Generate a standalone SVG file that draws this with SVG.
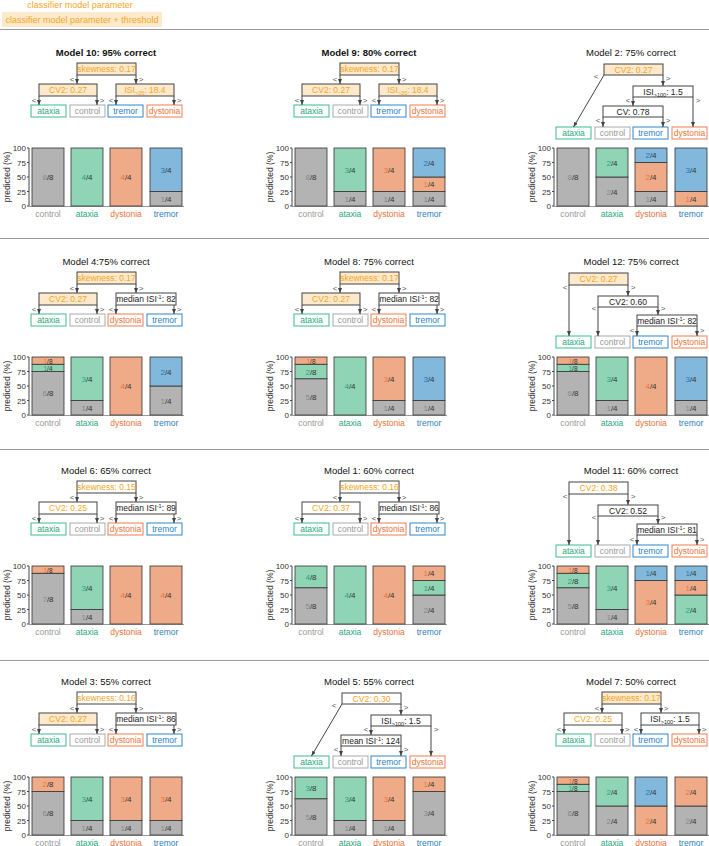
<svg xmlns="http://www.w3.org/2000/svg" xmlns:xlink="http://www.w3.org/1999/xlink" width="709" height="846" viewBox="0 0 709 846">
<style>
text{font-family:"Liberation Sans",Arial,sans-serif}
.ti{font-size:9.5px;text-anchor:middle;fill:#111}
.b{font-weight:bold}
.bx{stroke:#444;stroke-width:1}
.pf{fill:#fde9cc}
.pw{fill:#fff}
.tt{font-size:8.5px;text-anchor:middle}
.o{fill:#f5a623}
.k{fill:#222}
.sub{font-size:5.5px}
.lf{fill:#fff;stroke-width:1}
.la{stroke:#3dbb8f}.lc{stroke:#aaa}.lr{stroke:#2f86c8}.ld{stroke:#ef7d50}
.ca{fill:#2aa87e}.cc{fill:#999}.cr{fill:#2a7fc0}.cd{fill:#e8743b}
.e{stroke:#444;stroke-width:1;fill:none;marker-end:url(#ah)}
.s{font-size:8px;fill:#555;text-anchor:middle}
.g{fill:#b3b3b3}.gr{fill:#8fd5b5}.or{fill:#efab88}.bl{fill:#82b8dc}
.bar rect{stroke:#333;stroke-width:.8}
.bt{font-size:8px;text-anchor:middle;fill:#333}
text.bt[y="102.6"],text.bt[y="109.9"]{font-size:6.5px}
.ng{fill:#888}.na{fill:#1fa67a}.nd{fill:#e8743b}.nr{fill:#1f77b4}
.tk{font-size:8px;text-anchor:end;fill:#333}
.xl{font-size:8.5px;text-anchor:middle}
.sep{stroke:#999;stroke-width:1}
</style>
<defs>
<marker id="ah" markerWidth="5" markerHeight="4" refX="5" refY="2" orient="auto" markerUnits="userSpaceOnUse"><path d="M0,0L5,2L0,4z" fill="#444"/></marker>
<g id="ax">
<line x1="29" y1="96" x2="29" y2="154" stroke="#444"/>
<line x1="29" y1="154.5" x2="184" y2="154.5" stroke="#999"/>
<path d="M27 96H29M27 110.5H29M27 125H29M27 139.5H29M27 154H29" stroke="#444"/>
<text class="tk" x="26" y="99">100</text><text class="tk" x="26" y="113.5">75</text><text class="tk" x="26" y="128">50</text><text class="tk" x="26" y="142.5">25</text><text class="tk" x="26" y="157">0</text>
<text font-size="8.5" fill="#333" text-anchor="middle" transform="translate(10,125) rotate(-90)">predicted (%)</text>
<text class="xl cc" x="48" y="164.5">control</text><text class="xl ca" x="87" y="164.5">ataxia</text><text class="xl cd" x="126" y="164.5">dystonia</text><text class="xl cr" x="166" y="164.5">tremor</text>
</g>
<g id="LA">
<g><rect class="lf la" x="31" y="53" width="35" height="12"/><text class="tt ca" x="48.5" y="62">ataxia</text></g>
<g><rect class="lf lc" x="70" y="53" width="35" height="12"/><text class="tt cc" x="87.5" y="62">control</text></g>
<g><rect class="lf lr" x="108" y="53" width="35" height="12"/><text class="tt cr" x="125.5" y="62">tremor</text></g>
<g><rect class="lf ld" x="147" y="53" width="35" height="12"/><text class="tt cd" x="164.5" y="62">dystonia</text></g>
</g>
<g id="LB">
<g><rect class="lf la" x="31" y="53" width="35" height="12"/><text class="tt ca" x="48.5" y="62">ataxia</text></g>
<g><rect class="lf lc" x="70" y="53" width="35" height="12"/><text class="tt cc" x="87.5" y="62">control</text></g>
<g><rect class="lf ld" x="108" y="53" width="35" height="12"/><text class="tt cd" x="125.5" y="62">dystonia</text></g>
<g><rect class="lf lr" x="147" y="53" width="35" height="12"/><text class="tt cr" x="164.5" y="62">tremor</text></g>
</g>
<g id="eS">
<line class="e" x1="77" y1="23" x2="77" y2="32"/><line class="e" x1="136" y1="23" x2="136" y2="32"/>
<line class="e" x1="39" y1="44" x2="39" y2="53"/><line class="e" x1="97" y1="44" x2="97" y2="53"/>
<line class="e" x1="116" y1="44" x2="116" y2="53"/><line class="e" x1="174" y1="44" x2="174" y2="53"/>
<text class="s" x="72" y="30">&lt;</text><text class="s" x="141" y="30">&gt;</text>
<text class="s" x="34" y="51">&lt;</text><text class="s" x="102" y="51">&gt;</text>
<text class="s" x="111" y="51">&lt;</text><text class="s" x="179" y="51">&gt;</text>
</g>
<g id="eC">
<line class="e" x1="79" y1="23" x2="48.5" y2="75"/><line class="e" x1="138" y1="23" x2="138" y2="34"/>
<line class="e" x1="108" y1="45" x2="108" y2="54"/><line class="e" x1="168" y1="45" x2="168" y2="75"/>
<line class="e" x1="78" y1="65" x2="78" y2="75"/><line class="e" x1="138" y1="65" x2="138" y2="75"/>
<text class="s" x="71" y="27">&lt;</text><text class="s" x="143" y="29">&gt;</text>
<text class="s" x="103" y="51">&lt;</text><text class="s" x="173" y="51">&gt;</text>
<text class="s" x="73" y="71">&lt;</text><text class="s" x="143" y="71">&gt;</text>
</g>
<g id="eK">
<line class="e" x1="44" y1="24" x2="44" y2="75"/><line class="e" x1="103" y1="24" x2="103" y2="35"/>
<line class="e" x1="73" y1="46" x2="73" y2="75"/><line class="e" x1="133" y1="46" x2="133" y2="54"/>
<line class="e" x1="112" y1="65" x2="112" y2="75"/><line class="e" x1="172" y1="65" x2="172" y2="75"/>
<text class="s" x="40" y="29">&lt;</text><text class="s" x="108" y="29">&gt;</text>
<text class="s" x="69" y="50">&lt;</text><text class="s" x="138" y="50">&gt;</text>
<text class="s" x="107" y="72">&lt;</text><text class="s" x="177" y="72">&gt;</text>
</g>
</defs>
<rect width="709" height="846" fill="#fff"/>
<g id="legend">
<text x="80" y="8" font-size="9" fill="#f5a623" text-anchor="middle">classifier model parameter</text>
<rect x="2" y="12" width="160" height="15" fill="#fde9cc"/>
<text x="82" y="23" font-size="9" fill="#f5a623" text-anchor="middle">classifier model parameter + threshold</text>
</g>
<g id="separators">
<line class="sep" x1="0" y1="29.5" x2="709" y2="29.5"/>
<line class="sep" x1="0" y1="238.5" x2="709" y2="238.5"/>
<line class="sep" x1="0" y1="449.5" x2="709" y2="449.5"/>
<line class="sep" x1="0" y1="660.5" x2="709" y2="660.5"/>
</g>

<!-- Row 1 -->
<g id="m10" transform="translate(0,52)">
<text class="ti b" x="106" y="4">Model 10: 95% correct</text>
<g id="m10-n1"><rect class="bx pf" x="77" y="11" width="59" height="12"/><text class="tt o" x="106.5" y="20">skewness: 0.17</text></g>
<g id="m10-n2"><rect class="bx pf" x="39" y="32" width="58" height="12"/><text class="tt o" x="68" y="41">CV2: 0.27</text></g>
<g id="m10-n3"><rect class="bx pf" x="116" y="32" width="58" height="12"/><text class="tt o" x="145" y="41">ISI<tspan class="sub" dy="2">&gt;35</tspan><tspan dy="-2">: 18.4</tspan></text></g>
<use id="m10-leaves" href="#LA"/>
<use id="m10-edges" href="#eS"/>
<use href="#ax"/>
<g class="bar">
<rect class="g" x="32" y="96" width="32" height="58"/><text class="bt" x="48" y="128"><tspan class="ng">8</tspan>/8</text>
<rect class="gr" x="71" y="96" width="32" height="58"/><text class="bt" x="87" y="128"><tspan class="na">4</tspan>/4</text>
<rect class="or" x="110" y="96" width="32" height="58"/><text class="bt" x="126" y="128"><tspan class="nd">4</tspan>/4</text>
<rect class="g" x="150" y="139.5" width="32" height="14.5"/><text class="bt" x="166" y="149.75"><tspan class="ng">1</tspan>/4</text>
<rect class="bl" x="150" y="96" width="32" height="43.5"/><text class="bt" x="166" y="120.75"><tspan class="nr">3</tspan>/4</text>
</g>
</g>

<g id="m9" transform="translate(263,52)">
<text class="ti b" x="106" y="4">Model 9: 80% correct</text>
<g id="m9-n1"><rect class="bx pf" x="77" y="11" width="59" height="12"/><text class="tt o" x="106.5" y="20">skewness: 0.17</text></g>
<g id="m9-n2"><rect class="bx pf" x="39" y="32" width="58" height="12"/><text class="tt o" x="68" y="41">CV2: 0.27</text></g>
<g id="m9-n3"><rect class="bx pf" x="116" y="32" width="58" height="12"/><text class="tt o" x="145" y="41">ISI<tspan class="sub" dy="2">&gt;35</tspan><tspan dy="-2">: 18.4</tspan></text></g>
<use id="m9-leaves" href="#LA"/>
<use id="m9-edges" href="#eS"/>
<use href="#ax"/>
<g class="bar">
<rect class="g" x="32" y="96" width="32" height="58"/><text class="bt" x="48" y="128"><tspan class="ng">8</tspan>/8</text>
<rect class="g" x="71" y="139.5" width="32" height="14.5"/><text class="bt" x="87" y="149.75"><tspan class="ng">1</tspan>/4</text>
<rect class="gr" x="71" y="96" width="32" height="43.5"/><text class="bt" x="87" y="120.75"><tspan class="na">3</tspan>/4</text>
<rect class="g" x="110" y="139.5" width="32" height="14.5"/><text class="bt" x="126" y="149.75"><tspan class="ng">1</tspan>/4</text>
<rect class="or" x="110" y="96" width="32" height="43.5"/><text class="bt" x="126" y="120.75"><tspan class="nd">3</tspan>/4</text>
<rect class="g" x="150" y="139.5" width="32" height="14.5"/><text class="bt" x="166" y="149.75"><tspan class="ng">1</tspan>/4</text>
<rect class="or" x="150" y="125" width="32" height="14.5"/><text class="bt" x="166" y="135"><tspan class="nd">1</tspan>/4</text>
<rect class="bl" x="150" y="96" width="32" height="29"/><text class="bt" x="166" y="113.5"><tspan class="nr">2</tspan>/4</text>
</g>
</g>

<g id="m2" transform="translate(525,52)">
<text class="ti" x="106" y="4">Model 2: 75% correct</text>
<g id="m2-n1"><rect class="bx pf" x="79" y="12" width="59" height="11"/><text class="tt o" x="108.5" y="20.5">CV2: 0.27</text></g>
<g id="m2-n2"><rect class="bx pw" x="108" y="34" width="60" height="11"/><text class="tt k" x="138" y="42.5">ISI<tspan class="sub" dy="2">&gt;100</tspan><tspan dy="-2">: 1.5</tspan></text></g>
<g id="m2-n3"><rect class="bx pw" x="78" y="54" width="60" height="11"/><text class="tt k" x="108" y="62.5">CV: 0.78</text></g>
<use id="m2-leaves" href="#LA" y="22"/>
<use id="m2-edges" href="#eC"/>
<use href="#ax"/>
<g class="bar">
<rect class="g" x="32" y="96" width="32" height="58"/><text class="bt" x="48" y="128"><tspan class="ng">8</tspan>/8</text>
<rect class="g" x="71" y="125" width="32" height="29"/><text class="bt" x="87" y="142.5"><tspan class="ng">2</tspan>/4</text>
<rect class="gr" x="71" y="96" width="32" height="29"/><text class="bt" x="87" y="113.5"><tspan class="na">2</tspan>/4</text>
<rect class="g" x="110" y="139.5" width="32" height="14.5"/><text class="bt" x="126" y="149.75"><tspan class="ng">1</tspan>/4</text>
<rect class="or" x="110" y="110.5" width="32" height="29"/><text class="bt" x="126" y="128"><tspan class="nd">2</tspan>/4</text>
<rect class="bl" x="110" y="96" width="32" height="14.5"/><text class="bt" x="126" y="106"><tspan class="nr">2</tspan>/4</text>
<rect class="or" x="150" y="139.5" width="32" height="14.5"/><text class="bt" x="166" y="149.75"><tspan class="nd">1</tspan>/4</text>
<rect class="bl" x="150" y="96" width="32" height="43.5"/><text class="bt" x="166" y="120.75"><tspan class="nr">3</tspan>/4</text>
</g>
</g>

<!-- Row 2 -->
<g id="m4" transform="translate(0,261)">
<text class="ti" x="106" y="4">Model 4:75% correct</text>
<g id="m4-n1"><rect class="bx pf" x="77" y="11" width="59" height="12"/><text class="tt o" x="106.5" y="20">skewness: 0.17</text></g>
<g id="m4-n2"><rect class="bx pf" x="39" y="32" width="58" height="12"/><text class="tt o" x="68" y="41">CV2: 0.27</text></g>
<g id="m4-n3"><rect class="bx pw" x="116" y="32" width="60" height="12"/><text class="tt k" x="146" y="41">median ISI<tspan class="sub" dy="-3">-1</tspan><tspan dy="3">: 82</tspan></text></g>
<use id="m4-leaves" href="#LB"/>
<use id="m4-edges" href="#eS"/>
<use href="#ax"/>
<g class="bar">
<rect class="g" x="32" y="110.5" width="32" height="43.5"/><text class="bt" x="48" y="135"><tspan class="ng">6</tspan>/8</text>
<rect class="gr" x="32" y="103.25" width="32" height="7.25"/><text class="bt" x="48" y="109.9"><tspan class="na">1</tspan>/4</text>
<rect class="or" x="32" y="96" width="32" height="7.25"/><text class="bt" x="48" y="102.6"><tspan class="nd">1</tspan>/8</text>
<rect class="g" x="71" y="139.5" width="32" height="14.5"/><text class="bt" x="87" y="149.75"><tspan class="ng">1</tspan>/4</text>
<rect class="gr" x="71" y="96" width="32" height="43.5"/><text class="bt" x="87" y="120.75"><tspan class="na">3</tspan>/4</text>
<rect class="or" x="110" y="96" width="32" height="58"/><text class="bt" x="126" y="128"><tspan class="nd">4</tspan>/4</text>
<rect class="g" x="150" y="125" width="32" height="29"/><text class="bt" x="166" y="142.5"><tspan class="ng">1</tspan>/4</text>
<rect class="bl" x="150" y="96" width="32" height="29"/><text class="bt" x="166" y="113.5"><tspan class="nr">2</tspan>/4</text>
</g>
</g>

<g id="m8" transform="translate(263,261)">
<text class="ti" x="106" y="4">Model 8: 75% correct</text>
<g id="m8-n1"><rect class="bx pf" x="77" y="11" width="59" height="12"/><text class="tt o" x="106.5" y="20">skewness: 0.17</text></g>
<g id="m8-n2"><rect class="bx pf" x="39" y="32" width="58" height="12"/><text class="tt o" x="68" y="41">CV2: 0.27</text></g>
<g id="m8-n3"><rect class="bx pw" x="116" y="32" width="60" height="12"/><text class="tt k" x="146" y="41">median ISI<tspan class="sub" dy="-3">-1</tspan><tspan dy="3">: 82</tspan></text></g>
<use id="m8-leaves" href="#LB"/>
<use id="m8-edges" href="#eS"/>
<use href="#ax"/>
<g class="bar">
<rect class="g" x="32" y="117.75" width="32" height="36.25"/><text class="bt" x="48" y="139"><tspan class="ng">5</tspan>/8</text>
<rect class="gr" x="32" y="103.25" width="32" height="14.5"/><text class="bt" x="48" y="113.5"><tspan class="na">2</tspan>/8</text>
<rect class="or" x="32" y="96" width="32" height="7.25"/><text class="bt" x="48" y="102.6"><tspan class="nd">1</tspan>/8</text>
<rect class="gr" x="71" y="96" width="32" height="58"/><text class="bt" x="87" y="128"><tspan class="na">4</tspan>/4</text>
<rect class="g" x="110" y="139.5" width="32" height="14.5"/><text class="bt" x="126" y="149.75"><tspan class="ng">1</tspan>/4</text>
<rect class="or" x="110" y="96" width="32" height="43.5"/><text class="bt" x="126" y="120.75"><tspan class="nd">3</tspan>/4</text>
<rect class="g" x="150" y="139.5" width="32" height="14.5"/><text class="bt" x="166" y="149.75"><tspan class="ng">1</tspan>/4</text>
<rect class="bl" x="150" y="96" width="32" height="43.5"/><text class="bt" x="166" y="120.75"><tspan class="nr">3</tspan>/4</text>
</g>
</g>

<g id="m12" transform="translate(525,261)">
<text class="ti" x="106" y="4">Model 12: 75% correct</text>
<g id="m12-n1"><rect class="bx pf" x="44" y="12" width="59" height="12"/><text class="tt o" x="73.5" y="21">CV2: 0.27</text></g>
<g id="m12-n2"><rect class="bx pw" x="73" y="35" width="60" height="11"/><text class="tt k" x="103" y="43.5">CV2: 0.60</text></g>
<g id="m12-n3"><rect class="bx pw" x="112" y="54" width="60" height="11"/><text class="tt k" x="142" y="62.5">median ISI<tspan class="sub" dy="-3">-1</tspan><tspan dy="3">: 82</tspan></text></g>
<use id="m12-leaves" href="#LA" y="22"/>
<use id="m12-edges" href="#eK"/>
<use href="#ax"/>
<g class="bar">
<rect class="g" x="32" y="110.5" width="32" height="43.5"/><text class="bt" x="48" y="135"><tspan class="ng">6</tspan>/8</text>
<rect class="gr" x="32" y="103.25" width="32" height="7.25"/><text class="bt" x="48" y="109.9"><tspan class="na">1</tspan>/8</text>
<rect class="or" x="32" y="96" width="32" height="7.25"/><text class="bt" x="48" y="102.6"><tspan class="nd">1</tspan>/8</text>
<rect class="g" x="71" y="139.5" width="32" height="14.5"/><text class="bt" x="87" y="149.75"><tspan class="ng">1</tspan>/4</text>
<rect class="gr" x="71" y="96" width="32" height="43.5"/><text class="bt" x="87" y="120.75"><tspan class="na">3</tspan>/4</text>
<rect class="or" x="110" y="96" width="32" height="58"/><text class="bt" x="126" y="128"><tspan class="nd">4</tspan>/4</text>
<rect class="g" x="150" y="139.5" width="32" height="14.5"/><text class="bt" x="166" y="149.75"><tspan class="ng">1</tspan>/4</text>
<rect class="bl" x="150" y="96" width="32" height="43.5"/><text class="bt" x="166" y="120.75"><tspan class="nr">3</tspan>/4</text>
</g>
</g>

<!-- Row 3 -->
<g id="m6" transform="translate(0,470)">
<text class="ti" x="106" y="4">Model 6: 65% correct</text>
<g id="m6-n1"><rect class="bx pw" x="77" y="11" width="59" height="12"/><text class="tt o" x="106.5" y="20">skewness: 0.15</text></g>
<g id="m6-n2"><rect class="bx pw" x="39" y="32" width="58" height="12"/><text class="tt o" x="68" y="41">CV2: 0.25</text></g>
<g id="m6-n3"><rect class="bx pw" x="116" y="32" width="60" height="12"/><text class="tt k" x="146" y="41">median ISI<tspan class="sub" dy="-3">-1</tspan><tspan dy="3">: 89</tspan></text></g>
<use id="m6-leaves" href="#LB"/>
<use id="m6-edges" href="#eS"/>
<use href="#ax"/>
<g class="bar">
<rect class="g" x="32" y="103.25" width="32" height="50.75"/><text class="bt" x="48" y="131.6"><tspan class="ng">7</tspan>/8</text>
<rect class="or" x="32" y="96" width="32" height="7.25"/><text class="bt" x="48" y="102.6"><tspan class="nd">1</tspan>/8</text>
<rect class="g" x="71" y="139.5" width="32" height="14.5"/><text class="bt" x="87" y="149.75"><tspan class="ng">1</tspan>/4</text>
<rect class="gr" x="71" y="96" width="32" height="43.5"/><text class="bt" x="87" y="120.75"><tspan class="na">3</tspan>/4</text>
<rect class="or" x="110" y="96" width="32" height="58"/><text class="bt" x="126" y="128"><tspan class="nd">4</tspan>/4</text>
<rect class="or" x="150" y="96" width="32" height="58"/><text class="bt" x="166" y="128"><tspan class="nd">4</tspan>/4</text>
</g>
</g>

<g id="m1" transform="translate(263,470)">
<text class="ti" x="106" y="4">Model 1: 60% correct</text>
<g id="m1-n1"><rect class="bx pw" x="77" y="11" width="59" height="12"/><text class="tt o" x="106.5" y="20">skewness: 0.16</text></g>
<g id="m1-n2"><rect class="bx pw" x="39" y="32" width="58" height="12"/><text class="tt o" x="68" y="41">CV2: 0.37</text></g>
<g id="m1-n3"><rect class="bx pw" x="116" y="32" width="60" height="12"/><text class="tt k" x="146" y="41">median ISI<tspan class="sub" dy="-3">-1</tspan><tspan dy="3">: 86</tspan></text></g>
<use id="m1-leaves" href="#LB"/>
<use id="m1-edges" href="#eS"/>
<use href="#ax"/>
<g class="bar">
<rect class="g" x="32" y="117.75" width="32" height="36.25"/><text class="bt" x="48" y="139"><tspan class="ng">5</tspan>/8</text>
<rect class="gr" x="32" y="96" width="32" height="21.75"/><text class="bt" x="48" y="110"><tspan class="na">4</tspan>/8</text>
<rect class="gr" x="71" y="96" width="32" height="58"/><text class="bt" x="87" y="128"><tspan class="na">4</tspan>/4</text>
<rect class="or" x="110" y="96" width="32" height="58"/><text class="bt" x="126" y="128"><tspan class="nd">4</tspan>/4</text>
<rect class="g" x="150" y="125" width="32" height="29"/><text class="bt" x="166" y="142.5"><tspan class="ng">2</tspan>/4</text>
<rect class="gr" x="150" y="110.5" width="32" height="14.5"/><text class="bt" x="166" y="120.75"><tspan class="na">1</tspan>/4</text>
<rect class="or" x="150" y="96" width="32" height="14.5"/><text class="bt" x="166" y="106"><tspan class="nd">1</tspan>/4</text>
</g>
</g>

<g id="m11" transform="translate(525,470)">
<text class="ti" x="106" y="4">Model 11: 60% correct</text>
<g id="m11-n1"><rect class="bx pw" x="44" y="12" width="59" height="12"/><text class="tt o" x="73.5" y="21">CV2: 0.38</text></g>
<g id="m11-n2"><rect class="bx pw" x="73" y="35" width="60" height="11"/><text class="tt k" x="103" y="43.5">CV2: 0.52</text></g>
<g id="m11-n3"><rect class="bx pw" x="112" y="54" width="60" height="11"/><text class="tt k" x="142" y="62.5">median ISI<tspan class="sub" dy="-3">-1</tspan><tspan dy="3">: 81</tspan></text></g>
<use id="m11-leaves" href="#LA" y="22"/>
<use id="m11-edges" href="#eK"/>
<use href="#ax"/>
<g class="bar">
<rect class="g" x="32" y="117.75" width="32" height="36.25"/><text class="bt" x="48" y="139"><tspan class="ng">5</tspan>/8</text>
<rect class="gr" x="32" y="103.25" width="32" height="14.5"/><text class="bt" x="48" y="113.5"><tspan class="na">2</tspan>/8</text>
<rect class="or" x="32" y="96" width="32" height="7.25"/><text class="bt" x="48" y="102.6"><tspan class="nd">1</tspan>/8</text>
<rect class="g" x="71" y="139.5" width="32" height="14.5"/><text class="bt" x="87" y="149.75"><tspan class="ng">1</tspan>/4</text>
<rect class="gr" x="71" y="96" width="32" height="43.5"/><text class="bt" x="87" y="120.75"><tspan class="na">3</tspan>/4</text>
<rect class="or" x="110" y="110.5" width="32" height="43.5"/><text class="bt" x="126" y="135"><tspan class="nd">3</tspan>/4</text>
<rect class="bl" x="110" y="96" width="32" height="14.5"/><text class="bt" x="126" y="106"><tspan class="nr">1</tspan>/4</text>
<rect class="gr" x="150" y="125" width="32" height="29"/><text class="bt" x="166" y="142.5"><tspan class="na">2</tspan>/4</text>
<rect class="or" x="150" y="110.5" width="32" height="14.5"/><text class="bt" x="166" y="120.75"><tspan class="nd">1</tspan>/4</text>
<rect class="bl" x="150" y="96" width="32" height="14.5"/><text class="bt" x="166" y="106"><tspan class="nr">1</tspan>/4</text>
</g>
</g>

<!-- Row 4 -->
<g id="m3" transform="translate(0,681)">
<text class="ti" x="106" y="4">Model 3: 55% correct</text>
<g id="m3-n1"><rect class="bx pw" x="77" y="11" width="59" height="12"/><text class="tt o" x="106.5" y="20">skewness: 0.16</text></g>
<g id="m3-n2"><rect class="bx pf" x="39" y="32" width="58" height="12"/><text class="tt o" x="68" y="41">CV2: 0.27</text></g>
<g id="m3-n3"><rect class="bx pw" x="116" y="32" width="60" height="12"/><text class="tt k" x="146" y="41">median ISI<tspan class="sub" dy="-3">-1</tspan><tspan dy="3">: 86</tspan></text></g>
<use id="m3-leaves" href="#LB"/>
<use id="m3-edges" href="#eS"/>
<use href="#ax"/>
<g class="bar">
<rect class="g" x="32" y="110.5" width="32" height="43.5"/><text class="bt" x="48" y="135"><tspan class="ng">6</tspan>/8</text>
<rect class="or" x="32" y="96" width="32" height="14.5"/><text class="bt" x="48" y="106"><tspan class="nd">2</tspan>/8</text>
<rect class="g" x="71" y="139.5" width="32" height="14.5"/><text class="bt" x="87" y="149.75"><tspan class="ng">1</tspan>/4</text>
<rect class="gr" x="71" y="96" width="32" height="43.5"/><text class="bt" x="87" y="120.75"><tspan class="na">3</tspan>/4</text>
<rect class="g" x="110" y="139.5" width="32" height="14.5"/><text class="bt" x="126" y="149.75"><tspan class="ng">1</tspan>/4</text>
<rect class="or" x="110" y="96" width="32" height="43.5"/><text class="bt" x="126" y="120.75"><tspan class="nd">3</tspan>/4</text>
<rect class="g" x="150" y="139.5" width="32" height="14.5"/><text class="bt" x="166" y="149.75"><tspan class="ng">1</tspan>/4</text>
<rect class="or" x="150" y="96" width="32" height="43.5"/><text class="bt" x="166" y="120.75"><tspan class="nd">3</tspan>/4</text>
</g>
</g>

<g id="m5" transform="translate(263,681)">
<text class="ti" x="106" y="4">Model 5: 55% correct</text>
<g id="m5-n1"><rect class="bx pw" x="79" y="12" width="59" height="11"/><text class="tt o" x="108.5" y="20.5">CV2: 0.30</text></g>
<g id="m5-n2"><rect class="bx pw" x="108" y="34" width="60" height="11"/><text class="tt k" x="138" y="42.5">ISI<tspan class="sub" dy="2">&gt;100</tspan><tspan dy="-2">: 1.5</tspan></text></g>
<g id="m5-n3"><rect class="bx pw" x="78" y="54" width="60" height="11"/><text class="tt k" x="108" y="62.5">mean ISI<tspan class="sub" dy="-3">-1</tspan><tspan dy="3">: 124</tspan></text></g>
<use id="m5-leaves" href="#LA" y="22"/>
<use id="m5-edges" href="#eC"/>
<use href="#ax"/>
<g class="bar">
<rect class="g" x="32" y="117.75" width="32" height="36.25"/><text class="bt" x="48" y="139"><tspan class="ng">5</tspan>/8</text>
<rect class="gr" x="32" y="96" width="32" height="21.75"/><text class="bt" x="48" y="110"><tspan class="na">3</tspan>/8</text>
<rect class="g" x="71" y="139.5" width="32" height="14.5"/><text class="bt" x="87" y="149.75"><tspan class="ng">1</tspan>/4</text>
<rect class="gr" x="71" y="96" width="32" height="43.5"/><text class="bt" x="87" y="120.75"><tspan class="na">3</tspan>/4</text>
<rect class="g" x="110" y="139.5" width="32" height="14.5"/><text class="bt" x="126" y="149.75"><tspan class="ng">1</tspan>/4</text>
<rect class="or" x="110" y="96" width="32" height="43.5"/><text class="bt" x="126" y="120.75"><tspan class="nd">3</tspan>/4</text>
<rect class="g" x="150" y="110.5" width="32" height="43.5"/><text class="bt" x="166" y="135"><tspan class="ng">3</tspan>/4</text>
<rect class="or" x="150" y="96" width="32" height="14.5"/><text class="bt" x="166" y="106"><tspan class="nd">1</tspan>/4</text>
</g>
</g>

<g id="m7" transform="translate(525,681)">
<text class="ti" x="106" y="4">Model 7: 50% correct</text>
<g id="m7-n1"><rect class="bx pf" x="77" y="11" width="59" height="12"/><text class="tt o" x="106.5" y="20">skewness: 0.17</text></g>
<g id="m7-n2"><rect class="bx pw" x="39" y="32" width="58" height="12"/><text class="tt o" x="68" y="41">CV2: 0.25</text></g>
<g id="m7-n3"><rect class="bx pw" x="116" y="32" width="58" height="12"/><text class="tt k" x="145" y="41">ISI<tspan class="sub" dy="2">&gt;100</tspan><tspan dy="-2">: 1.5</tspan></text></g>
<use id="m7-leaves" href="#LA"/>
<use id="m7-edges" href="#eS"/>
<use href="#ax"/>
<g class="bar">
<rect class="g" x="32" y="110.5" width="32" height="43.5"/><text class="bt" x="48" y="135"><tspan class="ng">6</tspan>/8</text>
<rect class="gr" x="32" y="103.25" width="32" height="7.25"/><text class="bt" x="48" y="109.9"><tspan class="na">1</tspan>/8</text>
<rect class="or" x="32" y="96" width="32" height="7.25"/><text class="bt" x="48" y="102.6"><tspan class="nd">1</tspan>/8</text>
<rect class="g" x="71" y="125" width="32" height="29"/><text class="bt" x="87" y="142.5"><tspan class="ng">2</tspan>/4</text>
<rect class="gr" x="71" y="96" width="32" height="29"/><text class="bt" x="87" y="113.5"><tspan class="na">2</tspan>/4</text>
<rect class="or" x="110" y="125" width="32" height="29"/><text class="bt" x="126" y="142.5"><tspan class="nd">2</tspan>/4</text>
<rect class="bl" x="110" y="96" width="32" height="29"/><text class="bt" x="126" y="113.5"><tspan class="nr">2</tspan>/4</text>
<rect class="g" x="150" y="125" width="32" height="29"/><text class="bt" x="166" y="142.5"><tspan class="ng">2</tspan>/4</text>
<rect class="or" x="150" y="96" width="32" height="29"/><text class="bt" x="166" y="113.5"><tspan class="nd">2</tspan>/4</text>
</g>
</g>
</svg>
